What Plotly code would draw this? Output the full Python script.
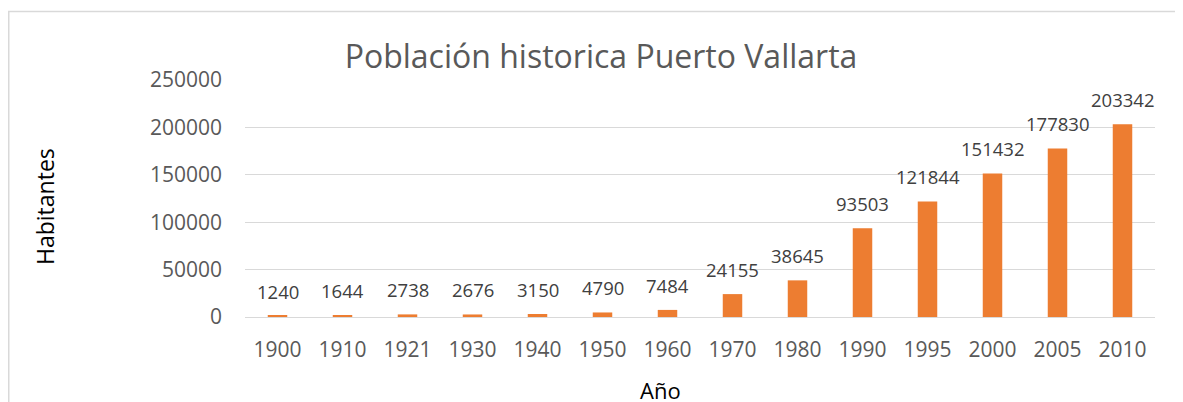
import plotly.graph_objects as go

years = ["1900", "1910", "1921", "1930", "1940", "1950", "1960", "1970",
         "1980", "1990", "1995", "2000", "2005", "2010"]
population = [1240, 1644, 2738, 2676, 3150, 4790, 7484, 24155,
              38645, 93503, 121844, 151432, 177830, 203342]
y_ticks = [0, 50000, 100000, 150000, 200000, 250000]

OFF = 8  # page body margin
W, H = 1183 - OFF, 402 - OFF
L, T = 245 - OFF, 80 - OFF
R = W - (1155 - OFF)
B = H - (317 - OFF)
PW, PH = W - L - R, H - T - B


def px_x(x):
    return (x - OFF - L) / PW


def px_y(y):
    return (H - B - (y - OFF)) / PH


FONT = "Open Sans"
ORANGE = "#ED7D31"
GRAY = "#595959"

fig = go.Figure(go.Bar(
    x=years, y=population,
    marker=dict(color=ORANGE, line=dict(width=0)),
    width=0.3,
    hoverinfo="x+y",
))

for i, v in enumerate(population):
    fig.add_annotation(x=i, y=v, xref="x", yref="y", text=str(v), showarrow=False,
                       xanchor="center", yanchor="bottom", yshift=10,
                       font=dict(family=FONT, size=18.5, color="#404040"))

# axis titles
fig.add_annotation(xref="paper", yref="paper", x=px_x(45), y=px_y(207),
                   xanchor="center", yanchor="middle",
                   text="Habitantes", textangle=-90, showarrow=False,
                   font=dict(family=FONT, size=23, color="#000000"))
fig.add_annotation(xref="paper", yref="paper", x=px_x(660), y=px_y(390),
                   xanchor="center", yanchor="middle",
                   text="Año", showarrow=False,
                   font=dict(family=FONT, size=22, color="#000000"))

# chart frame (partially off-canvas)
fig.add_shape(type="rect", xref="paper", yref="paper",
              x0=px_x(OFF + 0.75), x1=px_x(1183 + 30),
              y0=px_y(402 + 30), y1=px_y(11.5),
              line=dict(color="#D9D9D9", width=1.5), fillcolor="rgba(0,0,0,0)",
              layer="below")

fig.update_layout(
    width=W, height=H,
    margin=dict(l=L, r=R, t=T, b=B, autoexpand=False),
    paper_bgcolor="white", plot_bgcolor="white",
    title=dict(text="Población historica Puerto Vallarta",
               x=(601 - OFF) / W, xanchor="center", xref="container",
               y=1 - (57 - OFF) / H, yanchor="middle", yref="container",
               font=dict(family=FONT, size=32, color=GRAY)),
    showlegend=False,
    bargap=0.7,
    xaxis=dict(type="category", range=[-0.5, len(years) - 0.5],
               showgrid=False, showline=False, ticks="",
               tickfont=dict(family=FONT, size=21, color=GRAY),
               ticklabelstandoff=18),
    yaxis=dict(range=[0, 250000], tickvals=y_ticks,
               ticktext=[str(v) for v in y_ticks],
               showgrid=True, gridcolor="#D9D9D9", gridwidth=1.3,
               zeroline=True, zerolinecolor="#D9D9D9", zerolinewidth=1.3,
               showline=False, ticks="",
               tickfont=dict(family=FONT, size=21, color=GRAY),
               ticklabelstandoff=22),
)

fig.write_html("out.html")
